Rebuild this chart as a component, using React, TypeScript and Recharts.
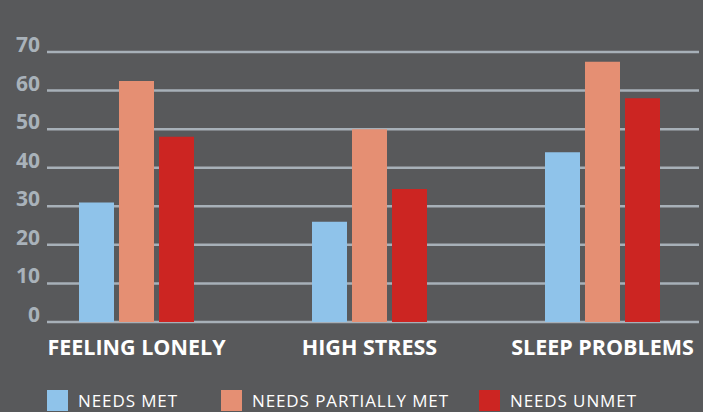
import React from 'react';
import { BarChart, Bar, XAxis, YAxis, CartesianGrid, Legend } from 'recharts';

const categories = ['FEELING LONELY', 'HIGH STRESS', 'SLEEP PROBLEMS'];
const needsMet = [31, 26, 44];
const needsPartiallyMet = [62.5, 50, 67.5];
const needsUnmet = [48, 34.5, 58];
const yTicks = [0, 10, 20, 30, 40, 50, 60, 70];

const series = [
  { key: 'met', name: 'NEEDS MET', color: '#8fc3ea' },
  { key: 'partial', name: 'NEEDS PARTIALLY MET', color: '#e58f73' },
  { key: 'unmet', name: 'NEEDS UNMET', color: '#cc2522' },
];

const data = categories.map((c, i) => ({
  category: c,
  met: needsMet[i],
  partial: needsPartiallyMet[i],
  unmet: needsUnmet[i],
}));

const FONT = '"Open Sans", sans-serif';
// spacing after each legend entry, to line up with the original
const legendSpacing = [43, 30, 0];

const XTick = (props: any) => {
  const { x, y, payload } = props;
  return (
    <text x={x} y={y} dy={25} textAnchor="middle" fill="#ffffff" fontFamily={FONT} fontWeight={700} fontSize={21.5}>
      {payload.value}
    </text>
  );
};

const YTick = (props: any) => {
  const { y, payload } = props;
  return (
    <text x={40} y={y} dy={0} textAnchor="end" fill="#a9b2ba" fontFamily={FONT} fontWeight={700} fontSize={21}>
      {payload.value}
    </text>
  );
};

const LegendContent = () => (
  <div style={{ display: 'flex', alignItems: 'center', fontFamily: FONT }}>
    {series.map((s, i) => (
      <div key={s.key} style={{ display: 'flex', alignItems: 'center', marginRight: legendSpacing[i] }}>
        <span style={{ display: 'inline-block', width: 21, height: 21, background: s.color, marginRight: 10 }} />
        <span style={{ color: '#ffffff', fontSize: 17, letterSpacing: 0.9 }}>{s.name}</span>
      </div>
    ))}
  </div>
);

export default function App() {
  return (
    <div style={{ position: 'absolute', left: 0, top: 0, width: 703, height: 412, background: '#58595b' }}>
      <BarChart
        width={703}
        height={412}
        data={data}
        margin={{ top: 52, right: 4, left: 0, bottom: 0 }}
        barSize={35}
        barGap={5}
      >
        <CartesianGrid vertical={false} stroke="#a7b0b8" strokeWidth={2.5} />
        <XAxis
          dataKey="category"
          axisLine={false}
          tickLine={false}
          tick={<XTick />}
          height={40}
          padding={{ left: -27, right: -20 }}
          interval={0}
        />
        <YAxis
          domain={[0, 70]}
          ticks={yTicks}
          axisLine={false}
          tickLine={false}
          tick={<YTick />}
          width={47}
          interval={0}
        />
        <Legend
          verticalAlign="bottom"
          height={50}
          content={<LegendContent />}
          wrapperStyle={{ left: 47, top: 389, width: 'auto' }}
        />
        {series.map(s => (
          <Bar key={s.key} dataKey={s.key} name={s.name} fill={s.color} isAnimationActive={false} />
        ))}
      </BarChart>
    </div>
  );
}
